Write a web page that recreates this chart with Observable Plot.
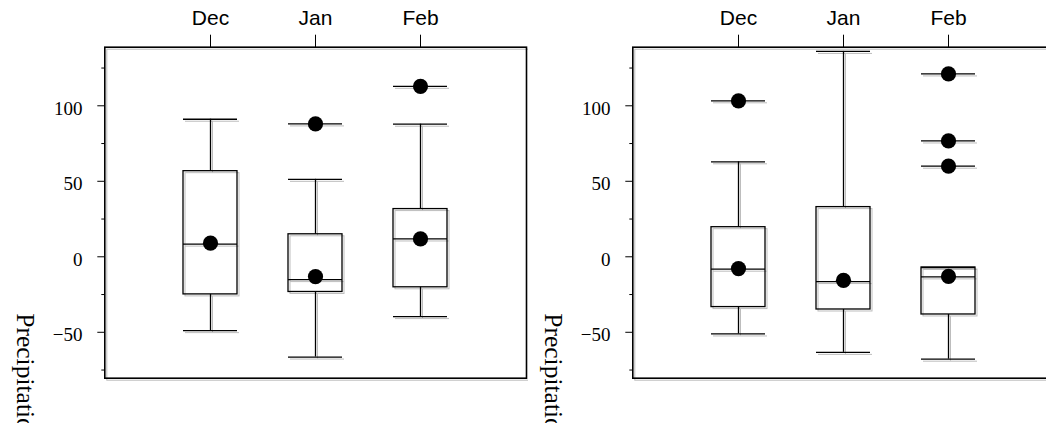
<!DOCTYPE html>
<html><head><meta charset="utf-8">
<script src="https://cdn.jsdelivr.net/npm/d3@7"></script>
<script src="https://cdn.jsdelivr.net/npm/@observablehq/plot@0.6"></script>
<style>
html,body{margin:0;padding:0;overflow:hidden;background:#fff;width:1046px;height:423px}
#wrap{position:relative;width:1046px;height:423px;overflow:hidden;background:#fff}
#wrap svg{position:absolute;top:0;max-width:none}
</style></head><body><div id="wrap"></div>
<script>
// ---------- data ----------
const months = ["Dec", "Jan", "Feb"];
const yTicksMajor = [-50, 0, 50, 100];
const yTicksMinor = [-75, -25, 25, 75, 125];
const axisTitle = "Precipitation";

// left panel
const leftLowerWhisker = [-48.9, -66.4, -39.6];
const leftQ1 = [-24.9, -23.3, -20.2];
const leftMedian = [8.4, -15.1, 11.8];
const leftQ3 = [56.7, 14.9, 31.6];
const leftUpperWhisker = [91.1, 51.3, 87.8];
const leftMean = [9.0, -13.1, 11.8];
const leftOutliers = [[], [88.0], [112.9]];

// right panel
const rightLowerWhisker = [-51.1, -63.3, -67.8];
const rightQ1 = [-33.3, -34.9, -38.2];
const rightMedian = [-8.2, -16.4, -13.3];
const rightQ3 = [19.6, 32.9, -7.1];
const rightUpperWhisker = [62.9, 136.0, -7.1];
const rightMean = [-7.8, -15.6, -13.0];
const rightOutliers = [[103.3], [], [121.1, 76.7, 60.0]];

// ---------- chart ----------
const W = 528, H = 423;
const ML = 104.3, MR = 2, MT = 46.7, MB = 45.3;
const SHADOW = "#bdbdbd";
const SANS = "Liberation Sans, Arial, sans-serif";
const SERIF = "Liberation Serif, Times New Roman, serif";

function panel(lo, q1, med, q3, hi, mean, outliers) {
  const rows = months.map((m, i) => ({month: m, lo: lo[i], q1: q1[i], med: med[i], q3: q3[i], hi: hi[i], mean: mean[i]}));
  const outs = months.flatMap((m, i) => outliers[i].map(v => ({month: m, v})));
  const layer = (stroke, dx, dy, sw) => {
    const o = {stroke, dx, dy, strokeWidth: sw};
    return [
      Plot.ruleX(rows, {x: "month", y1: "lo", y2: "q1", ...o}),
      Plot.ruleX(rows, {x: "month", y1: "q3", y2: "hi", ...o}),
      Plot.barY(rows, {x: "month", y1: "q1", y2: "q3", fill: "none", ...o}),
      Plot.tickY(rows, {x: "month", y: "med", ...o}),
      Plot.tickY(rows, {x: "month", y: "lo", ...o}),
      Plot.tickY(rows, {x: "month", y: "hi", ...o}),
      Plot.tickY(outs, {x: "month", y: "v", ...o})
    ];
  };
  const svg = Plot.plot({
    width: W, height: H,
    marginLeft: ML, marginRight: MR, marginTop: MT, marginBottom: MB,
    style: {background: "white", color: "black"},
    x: {type: "band", domain: months, paddingInner: 0.488, paddingOuter: 0.744, axis: null},
    y: {domain: [-80.4, 138.8], axis: null},
    marks: [
      Plot.frame({stroke: SHADOW, dx: 2, dy: 2, strokeWidth: 1}),
      ...layer(SHADOW, 2, 2, 1),
      ...layer("black", 0, 0, 1.3),
      Plot.frame({stroke: "black", strokeWidth: 1.6}),
      Plot.dot(rows, {x: "month", y: "mean", r: 7.6, fill: "black", stroke: "none"}),
      Plot.dot(outs, {x: "month", y: "v", r: 7.6, fill: "black", stroke: "none"}),
      Plot.axisX({anchor: "top", tickSize: 13, tickPadding: 9.7, fontSize: 21, fontFamily: SANS, label: null}),
      Plot.axisY({ticks: yTicksMajor, tickSize: 7, tickFormat: () => "", label: null}),
      Plot.axisY({ticks: yTicksMinor, tickSize: 3, tickFormat: () => "", label: null}),
      Plot.axisY({ticks: yTicksMajor, tickSize: 0, tickPadding: 22.3, dy: 3, fontSize: 19, fontFamily: SERIF, label: null})
    ]
  });
  d3.select(svg).append("text")
    .attr("transform", "translate(16.5,313.3) rotate(90)")
    .attr("text-anchor", "start")
    .attr("font-family", SERIF)
    .attr("font-size", 25.5)
    .attr("fill", "black")
    .text(axisTitle);
  return svg;
}

const wrap = document.getElementById("wrap");
const a = panel(leftLowerWhisker, leftQ1, leftMedian, leftQ3, leftUpperWhisker, leftMean, leftOutliers);
const b = panel(rightLowerWhisker, rightQ1, rightMedian, rightQ3, rightUpperWhisker, rightMean, rightOutliers);
a.style.left = "0px";
b.style.left = "527.5px";
wrap.appendChild(a);
wrap.appendChild(b);
</script></body></html>
